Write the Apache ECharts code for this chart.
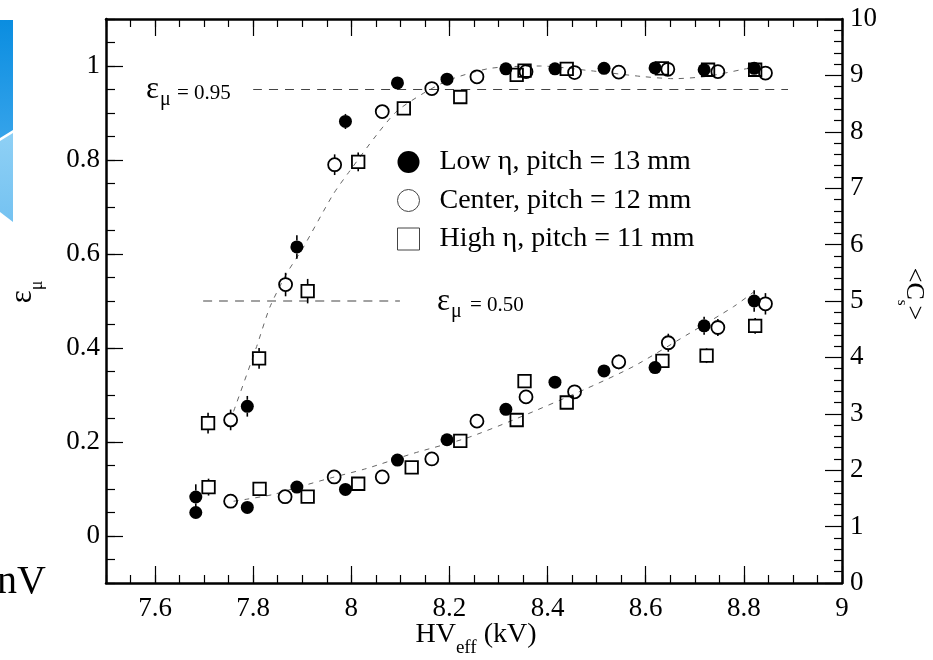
<!DOCTYPE html>
<html><head><meta charset="utf-8">
<script src="https://cdn.jsdelivr.net/npm/echarts@6/dist/echarts.min.js"></script>
<style>html,body{margin:0;padding:0;background:#fff}#c{width:933px;height:660px}</style>
</head><body><div id="c"></div>
<script>
// ---------------- data ----------------
const xTickLabels = [7.6, 7.8, 8.0, 8.2, 8.4, 8.6, 8.8, 9.0];
const leftTickLabels = [0, 0.2, 0.4, 0.6, 0.8, 1.0];
const legendNames = ['Low η, pitch = 13 mm', 'Center, pitch = 12 mm', 'High η, pitch = 11 mm'];

// efficiency eps_mu (left axis)
const effLowX  = [7.683, 7.788, 7.889, 7.988, 8.094, 8.195, 8.315, 8.415, 8.515, 8.619, 8.719, 8.821];
const effLowY  = [0.083, 0.276, 0.615, 0.882, 0.964, 0.972, 0.994, 0.994, 0.995, 0.996, 0.992, 0.995];
const effLowErr= [0.027, 0.022, 0.025, 0.016, 0, 0, 0, 0, 0, 0, 0, 0];

const effCenX  = [7.754, 7.866, 7.966, 8.063, 8.164, 8.256, 8.356, 8.455, 8.545, 8.645, 8.747, 8.844];
const effCenY  = [0.247, 0.535, 0.790, 0.903, 0.952, 0.977, 0.988, 0.986, 0.987, 0.993, 0.988, 0.985];
const effCenErr= [0.022, 0.025, 0.022, 0, 0, 0, 0, 0, 0, 0, 0, 0];

const effHighX  = [7.708, 7.812, 7.911, 8.014, 8.107, 8.222, 8.337, 8.353, 8.439, 8.633, 8.727, 8.823];
const effHighY  = [0.240, 0.378, 0.521, 0.796, 0.910, 0.934, 0.981, 0.990, 0.994, 0.995, 0.992, 0.992];
const effHighErr= [0.022, 0.022, 0.026, 0.020, 0, 0, 0, 0, 0, 0, 0, 0];

// mean cluster size <C_s> (right axis)
const csLowX  = [7.683, 7.788, 7.889, 7.988, 8.094, 8.195, 8.315, 8.415, 8.515, 8.619, 8.719, 8.821];
const csLowY  = [1.25, 1.34, 1.70, 1.66, 2.18, 2.54, 3.08, 3.56, 3.76, 3.82, 4.56, 5.00];
const csLowErr= [0, 0, 0, 0, 0, 0, 0, 0, 0, 0, 0.16, 0.19];

const csCenX  = [7.754, 7.865, 7.965, 8.063, 8.164, 8.256, 8.356, 8.455, 8.545, 8.646, 8.747, 8.844];
const csCenY  = [1.45, 1.53, 1.88, 1.88, 2.20, 2.87, 3.30, 3.39, 3.92, 4.26, 4.53, 4.95];
const csCenErr= [0, 0, 0, 0, 0, 0, 0, 0.10, 0.13, 0.16, 0.15, 0.19];

const csHighX  = [7.709, 7.813, 7.911, 8.014, 8.123, 8.222, 8.337, 8.353, 8.439, 8.634, 8.724, 8.823];
const csHighY  = [1.70, 1.67, 1.53, 1.76, 2.05, 2.52, 2.89, 3.58, 3.20, 3.94, 4.03, 4.56];
const csHighErr= [0.15, 0, 0, 0, 0, 0, 0, 0.10, 0, 0.10, 0.13, 0.14];

// fitted curves (dashed)
const effFitX = [7.760, 7.807, 7.834, 7.868, 7.902, 7.963, 7.997, 8.052, 8.093, 8.147, 8.201, 8.283, 8.385, 8.487, 8.589, 8.657, 8.725, 8.799, 8.820];
const effFitY = [0.265, 0.403, 0.487, 0.558, 0.614, 0.727, 0.777, 0.854, 0.904, 0.942, 0.971, 0.995, 1.000, 0.990, 0.978, 0.973, 0.978, 0.993, 0.997];
const csFitX = [7.760, 7.783, 7.841, 7.896, 7.957, 8.031, 8.127, 8.235, 8.330, 8.480, 8.575, 8.684, 8.779, 8.820];
const csFitY = [1.45, 1.48, 1.57, 1.71, 1.86, 2.03, 2.30, 2.57, 2.89, 3.45, 3.84, 4.40, 4.90, 5.16];

// reference levels
const ref95X = [7.80, 8.89], ref95Y = [0.95, 0.95];
const ref50X = [7.698, 8.099], ref50Y = [0.50, 0.50];

// ---------------- chart ----------------
const F = '"Liberation Serif", "Times New Roman", serif';
const zip = (xs, ys) => xs.map((x, i) => [x, ys[i]]);
const zip3 = (xs, ys, es) => xs.map((x, i) => [x, ys[i], es[i]]).filter(d => d[2] > 0);
const fmt = v => String(Math.round(v * 100) / 100);
const MS = 13; // marker size

const baseX = {
  type: 'value', min: 7.5, max: 9, interval: 0.05, splitLine: { show: false },
  axisLine: { show: true, onZero: false, lineStyle: { color: '#000', width: 2.5 } },
  axisTick: { show: true, inside: true, length: 8, lineStyle: { color: '#000', width: 1.2 } },
  axisLabel: { show: false }
};
const baseYL = {
  type: 'value', min: -0.1, max: 1.1, interval: 0.05, position: 'left', splitLine: { show: false },
  axisLine: { show: true, onZero: false, lineStyle: { color: '#000', width: 2.5 } },
  axisTick: { show: true, inside: true, length: 9, lineStyle: { color: '#000', width: 1.2 } },
  axisLabel: { show: false }
};

// error bars drawn outside the marker (ROOT style)
const errSeries = (data, yIdx) => ({
  type: 'custom', xAxisIndex: 0, yAxisIndex: yIdx, data: data, z: 5, silent: true,
  renderItem: (params, api) => {
    const x = api.value(0), y = api.value(1), e = api.value(2);
    const c = api.coord([x, y]);
    const top = api.coord([x, y + e])[1], bot = api.coord([x, y - e])[1];
    const r = MS / 2;
    const kids = [];
    const st = { stroke: '#000', lineWidth: 1.6 };
    if (c[1] - top > r) kids.push({ type: 'line', shape: { x1: c[0], y1: top, x2: c[0], y2: c[1] - r }, style: st });
    if (bot - c[1] > r) kids.push({ type: 'line', shape: { x1: c[0], y1: c[1] + r, x2: c[0], y2: bot }, style: st });
    return { type: 'group', children: kids };
  }
});
const filledStyle = { color: '#000', opacity: 1 };
const openStyle = { color: 'rgba(0,0,0,0)', borderColor: '#000', borderWidth: 1.8, opacity: 1 };
const scat = (name, data, yIdx, symbol, style) => ({
  name: name, type: 'scatter', xAxisIndex: 0, yAxisIndex: yIdx, data: data,
  symbol: symbol, symbolSize: symbol === 'rect' ? MS - 0.5 : MS, itemStyle: style, z: 4, silent: true
});
const dashLine = (data, yIdx, color, dash, width) => ({
  type: 'line', xAxisIndex: 0, yAxisIndex: yIdx, data: data, showSymbol: false, symbol: 'none',
  lineStyle: { color: color, type: dash, width: width }, z: 2, silent: true, smooth: 0.25
});

const option = {
  animation: false,
  backgroundColor: '#fff',
  grid: { left: 106, right: 91, top: 19, bottom: 77, containLabel: false, outerBoundsMode: 'none' },
  legend: {
    orient: 'vertical', left: 392, top: 143, itemWidth: 22, itemHeight: 22, itemGap: 10.5,
    selectedMode: false,
    textStyle: { fontFamily: F, fontSize: 28, color: '#000', lineHeight: 22, padding: [0, 0, 0, 15] },
    data: [
      { name: legendNames[0], icon: 'circle', itemStyle: { color: '#000', borderWidth: 0, opacity: 1 } },
      { name: legendNames[1], icon: 'circle', itemStyle: { color: '#fff', borderColor: '#444', borderWidth: 1, opacity: 1 } },
      { name: legendNames[2], icon: 'rect', itemStyle: { color: '#fff', borderColor: '#444', borderWidth: 1, opacity: 1 } }
    ]
  },
  xAxis: [
    Object.assign({}, baseX, {
      position: 'bottom',
      axisLabel: { show: true, customValues: xTickLabels, formatter: fmt, fontFamily: F, fontSize: 27, color: '#000', margin: 12 }
    }),
    Object.assign({}, baseX, { position: 'top' }),
    Object.assign({}, baseX, { position: 'bottom', axisLine: { show: false, onZero: false },
      axisTick: { show: true, inside: true, length: 17, customValues: xTickLabels, lineStyle: { color: '#000', width: 1.2 } } }),
    Object.assign({}, baseX, { position: 'top', axisLine: { show: false, onZero: false },
      axisTick: { show: true, inside: true, length: 17, customValues: xTickLabels, lineStyle: { color: '#000', width: 1.2 } } })
  ],
  yAxis: [
    Object.assign({}, baseYL, {
      axisLabel: { show: true, customValues: leftTickLabels, formatter: fmt, fontFamily: F, fontSize: 27, color: '#000', margin: 6 }
    }),
    {
      type: 'value', min: 0, max: 10, interval: 1, position: 'right', splitLine: { show: false },
      axisLine: { show: true, onZero: false, lineStyle: { color: '#000', width: 2.5 } },
      axisTick: { show: true, inside: true, length: 17, lineStyle: { color: '#000', width: 1.2 } },
      minorTick: { show: true, splitNumber: 5, length: 8, lineStyle: { color: '#000', width: 1.2 } },
      minorSplitLine: { show: false },
      axisLabel: { show: true, fontFamily: F, fontSize: 27, color: '#000', margin: 8, formatter: fmt }
    },
    Object.assign({}, baseYL, { axisLine: { show: false, onZero: false },
      axisTick: { show: true, inside: true, length: 17, customValues: leftTickLabels, lineStyle: { color: '#000', width: 1.2 } } })
  ],
  series: [
    dashLine(zip(effFitX, effFitY), 0, '#666', [5, 6], 1),
    dashLine(zip(csFitX, csFitY), 1, '#666', [5, 6], 1),
    dashLine(zip(ref95X, ref95Y), 0, '#444', [9, 7], 1.2),
    dashLine(zip(ref50X, ref50Y), 0, '#444', [9, 7], 1.2),
    scat(legendNames[0], zip(effLowX, effLowY), 0, 'circle', filledStyle),
    scat(legendNames[1], zip(effCenX, effCenY), 0, 'circle', openStyle),
    scat(legendNames[2], zip(effHighX, effHighY), 0, 'rect', openStyle),
    scat('Cs low', zip(csLowX, csLowY), 1, 'circle', filledStyle),
    scat('Cs center', zip(csCenX, csCenY), 1, 'circle', openStyle),
    scat('Cs high', zip(csHighX, csHighY), 1, 'rect', openStyle),
    errSeries(zip3(effLowX, effLowY, effLowErr), 0),
    errSeries(zip3(effCenX, effCenY, effCenErr), 0),
    errSeries(zip3(effHighX, effHighY, effHighErr), 0),
    errSeries(zip3(csLowX, csLowY, csLowErr), 1),
    errSeries(zip3(csCenX, csCenY, csCenErr), 1),
    errSeries(zip3(csHighX, csHighY, csHighErr), 1)
  ],
  graphic: [
    // slide remnants at the left edge
    { type: 'polygon', shape: { points: [[0, 20], [13, 20], [13, 130], [0, 138]] },
      style: { fill: new echarts.graphic.LinearGradient(0, 0, 0, 1, [{ offset: 0, color: '#0a8de0' }, { offset: 1, color: '#35a3ea' }]) } },
    { type: 'polygon', shape: { points: [[0, 141], [13, 133], [13, 222], [0, 212]] },
      style: { fill: new echarts.graphic.LinearGradient(0, 0, 0, 1, [{ offset: 0, color: '#8fd0f5' }, { offset: 1, color: '#74c2f1' }]) } },
    { type: 'text', left: -3, top: 562, style: { text: 'nV', font: '40px ' + F, fill: '#000' } },
    // x axis title
    { type: 'text', x: 476, y: 644,
      style: { text: '{a|HV}{b|eff}{a| (kV)}', align: 'center', verticalAlign: 'middle',
        rich: { a: { fontFamily: F, fontSize: 28, fill: '#000', lineHeight: 27, padding: [0, 0, 9, 0], verticalAlign: 'bottom' },
                b: { fontFamily: F, fontSize: 19, fill: '#000', lineHeight: 18, verticalAlign: 'bottom' } } } },
    // left axis title
    { type: 'text', x: 33, y: 292, rotation: Math.PI / 2,
      style: { text: '{e|ε}{m|μ}', align: 'center', verticalAlign: 'middle',
        rich: { e: { fontFamily: F, fontSize: 31, lineHeight: 26, padding: [0, 0, 8, 0], verticalAlign: 'bottom', fill: '#000' },
                m: { fontFamily: F, fontSize: 18, lineHeight: 16, verticalAlign: 'bottom', fill: '#000' } } } },
    // right axis title
    { type: 'text', x: 906, y: 294, rotation: -Math.PI / 2,
      style: { text: '{a|<C}{s|s}{a|>}', align: 'center', verticalAlign: 'middle',
        rich: { a: { fontFamily: F, fontSize: 26, lineHeight: 24, padding: [0, 0, 7, 0], verticalAlign: 'bottom', fill: '#000' },
                s: { fontFamily: F, fontSize: 15, lineHeight: 14, verticalAlign: 'bottom', fill: '#000' } } } },
    // eps = 0.95 annotation
    { type: 'text', x: 146, y: 90, style: { text: 'ε', font: '31px ' + F, fill: '#000', verticalAlign: 'middle' } },
    { type: 'text', x: 160, y: 100, style: { text: 'μ', font: '20px ' + F, fill: '#000', verticalAlign: 'middle' } },
    { type: 'text', x: 177, y: 93, style: { text: '= 0.95', font: '21px ' + F, fill: '#000', verticalAlign: 'middle' } },
    // eps = 0.50 annotation
    { type: 'text', x: 437, y: 302, style: { text: 'ε', font: '31px ' + F, fill: '#000', verticalAlign: 'middle' } },
    { type: 'text', x: 451, y: 312, style: { text: 'μ', font: '20px ' + F, fill: '#000', verticalAlign: 'middle' } },
    { type: 'text', x: 470, y: 305, style: { text: '= 0.50', font: '21px ' + F, fill: '#000', verticalAlign: 'middle' } }
  ]
};

const chart = echarts.init(document.getElementById('c'), null, { renderer: 'canvas' });
chart.setOption(option);
</script>
</body></html>
